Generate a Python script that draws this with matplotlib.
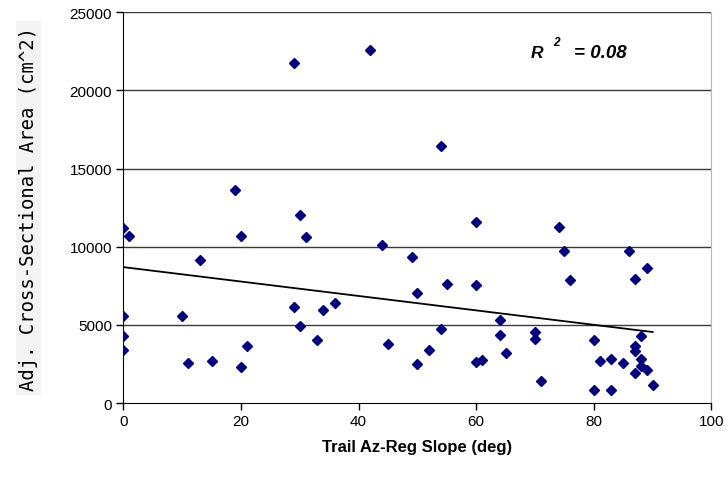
import numpy as np
import matplotlib
matplotlib.use("Agg")
import matplotlib.pyplot as plt
from matplotlib.patches import Rectangle

# Trail azimuth / regional slope angle (deg) vs. adjusted cross-sectional area (cm^2)
slope_deg = [0, 1, 0, 0, 0, 10, 11, 13, 15, 19, 20, 20, 21, 29, 29, 30, 30, 31,
             33, 34, 36, 42, 44, 45, 49, 50, 50, 52, 54, 54, 55, 60, 60, 60, 61,
             64, 64, 65, 70, 70, 71, 74, 75, 76, 80, 80, 81, 83, 83, 85, 86, 87,
             87, 87, 87, 88, 88, 88, 89, 89, 90]
area_cm2 = [11180, 10700, 5590, 4270, 3410, 5590, 2580, 9150, 2710, 13630, 10700,
            2280, 3630, 21730, 6140, 12010, 4950, 10600, 4030, 5930, 6400, 22580,
            10130, 3770, 9340, 7040, 2500, 3390, 16420, 4750, 7590, 11580, 7530,
            2620, 2770, 5290, 4330, 3200, 4540, 4090, 1390, 11240, 9700, 7890,
            4010, 830, 2690, 2840, 830, 2580, 9700, 7950, 3630, 3350, 1900, 4310,
            2790, 2390, 8640, 2130, 1170]

x_ticks = [0, 20, 40, 60, 80, 100]
y_ticks = [0, 5000, 10000, 15000, 20000, 25000]

fig = plt.figure(figsize=(7.28, 4.81), dpi=100)
ax = fig.add_axes([0.1694, 0.160, 0.8079, 0.8123])

x = np.array(slope_deg, dtype=float)
y = np.array(area_cm2, dtype=float)

# horizontal grid lines
for v in y_ticks[1:]:
    ax.axhline(v, color="#3a3a3a", lw=1.0, zorder=1)

ax.plot(x, y, linestyle="none", marker="D", ms=4.6, color="#000080",
        markeredgecolor="#000080", zorder=3)

# least-squares trend line
coef = np.polyfit(x, y, 1)
xs = np.array([x.min(), x.max()])
ax.plot(xs, np.polyval(coef, xs), color="black", lw=1.3, zorder=2)

ax.set_xlim(0, 100)
ax.set_ylim(0, 25000)
ax.set_xticks(x_ticks)
ax.set_yticks(y_ticks)
ax.tick_params(direction="out", length=5, width=1, labelsize=11, pad=3,
               color="black")
for lab in ax.get_xticklabels() + ax.get_yticklabels():
    lab.set_fontfamily("Liberation Sans")

ax.spines["top"].set_visible(False)
ax.spines["right"].set_color("#b8b8b8")
ax.spines["left"].set_color("black")
ax.spines["bottom"].set_color("black")

ax.set_xlabel("Trail Az-Reg Slope (deg)", fontfamily="Liberation Sans",
              fontweight="bold", fontsize=12, labelpad=8)

# y-axis title on a light grey band
fig.patches.append(Rectangle((16 / 728, 1 - 396 / 481), 25 / 728, 374 / 481,
                             transform=fig.transFigure, facecolor="#f3f3f3",
                             edgecolor="none", zorder=0))
fig.text(28.5 / 728, 1 - 209 / 481, "Adj. Cross-Sectional Area (cm^2)",
         rotation=90, ha="center", va="center", fontfamily="DejaVu Sans Mono",
         fontsize=13.6)

ax.text(69.3, 22450, "R", fontfamily="Liberation Sans", fontweight="bold",
        fontstyle="italic", fontsize=12.5, ha="left", va="center")
ax.text(73.1, 23100, "2", fontfamily="Liberation Sans", fontweight="bold",
        fontstyle="italic", fontsize=8.5, ha="left", va="center")
ax.text(76.6, 22450, "= 0.08", fontfamily="Liberation Sans", fontweight="bold",
        fontstyle="italic", fontsize=13.5, ha="left", va="center")

fig.savefig("out.png", dpi=100)
